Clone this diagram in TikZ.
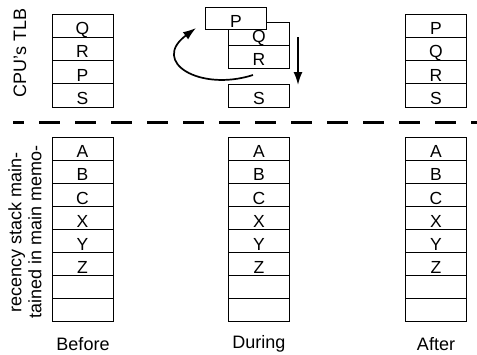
\documentclass[tikz,border=0pt]{standalone}
\usepackage{fontspec}
\setmainfont{Liberation Sans}
\usetikzlibrary{arrows.meta}
\begin{document}
\begin{tikzpicture}[x=1pt,y=-1pt,
  cell/.style={draw, fill=white, minimum width=61pt, minimum height=23.2pt, inner sep=0pt, line width=0.8pt, text height=18pt, text depth=0pt, font=\fontsize{17.5}{18}\selectfont},
  lbl/.style={font=\fontsize{18}{20}\selectfont, inner sep=0pt},
  side/.style={font=\fontsize{18}{20}\selectfont, inner sep=0pt, rotate=90, align=center},
  arr/.style={line width=1.7pt, -{Latex[length=13pt,width=9pt]}}]
\useasboundingbox (0,0) rectangle (477,354);
% Before TLB
\foreach \t [count=\i from 0] in {Q,R,P,S}
  \node[cell] (bt\i) at (82.5,{25.6+23.25*\i}) {\t};
% After TLB
\foreach \t [count=\i from 0] in {P,Q,R,S}
  \node[cell] (at\i) at (436,{25.6+23.25*\i}) {\t};
% During TLB
\node[cell] (dq) at (259,33.5) {Q};
\node[cell] (dr) at (259,56.7) {R};
\node[cell] (ds) at (259,95.5) {S};
\node[cell, minimum height=22pt] (dp) at (236,18) {P};
% stacks
\foreach \x/\n in {82.5/b,259/d,436/a}
  \foreach \t [count=\i from 0] in {A,B,C,X,Y,Z,{},{}}
    \node[cell] (\n s\i) at (\x,{148.9+23.05*\i}) {\t};
% dashed separator
\coordinate (dl) at (13,122);
\coordinate (dr2) at (477,122);
\draw[line width=3pt, dash pattern=on 21pt off 15pt, dash phase=10pt] (dl) -- (dr2);
% arrows
\coordinate (da1) at (298,37);
\coordinate (da2) at (298,85);
\draw[arr] (da1) -- (da2);
\coordinate (ca1) at (253,75);
\coordinate (ca2) at (196,28);
\draw[arr] (ca1) .. controls (200,92) and (150,62) .. (ca2);
% labels
\node[side] (l1) at (20,53) {CPU's TLB};
\node[side] (l2) at (25,232) {recency stack main-\\tained in main memo-};
\node[lbl] (b) at (83,344) {Before};
\node[lbl] (d) at (259,344) {During};
\node[lbl] (a) at (436,344) {After};
\end{tikzpicture}
\end{document}
